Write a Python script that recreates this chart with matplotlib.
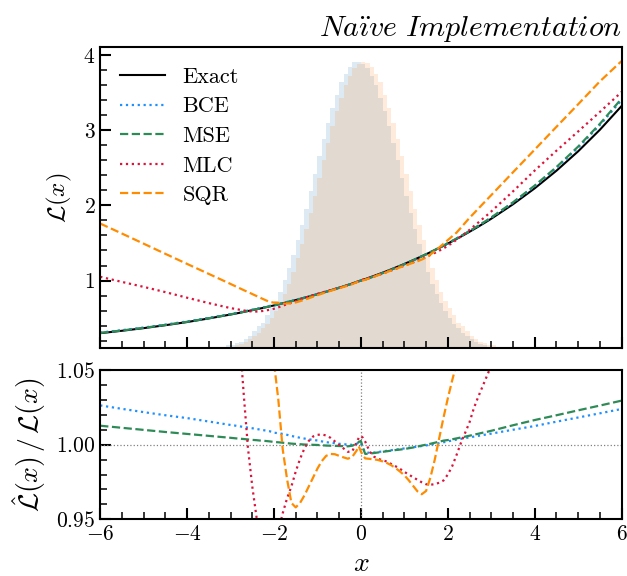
import numpy as np
import matplotlib
matplotlib.use("Agg")
import matplotlib.pyplot as plt
from matplotlib.ticker import MultipleLocator

plt.rcParams['font.family'] = 'serif'
plt.rcParams['font.serif'] = ['cmr10']
plt.rcParams['mathtext.fontset'] = 'cm'
plt.rcParams['axes.formatter.use_mathtext'] = True
plt.rcParams['axes.unicode_minus'] = True

# sample positions along x
x_grid = [-6.0, -5.5, -5.0, -4.5, -4.0, -3.5,
          -3.0, -2.9, -2.8, -2.7, -2.6, -2.5, -2.4, -2.3, -2.2, -2.1,
          -2.0, -1.9, -1.8, -1.7, -1.6, -1.5, -1.4, -1.3, -1.2, -1.1,
          -1.0, -0.9, -0.8, -0.7, -0.6, -0.5, -0.4, -0.3, -0.2, -0.1,
          -0.05, 0.0, 0.05,
          0.1, 0.2, 0.3, 0.4, 0.5, 0.6, 0.7, 0.8, 0.9, 1.0,
          1.1, 1.2, 1.3, 1.4, 1.5, 1.6, 1.7, 1.8, 1.9, 2.0,
          2.1, 2.2, 2.3, 2.4, 2.5, 2.6, 2.7, 2.8, 2.9, 3.0,
          3.5, 4.0, 4.5, 5.0, 5.5, 6.0]

# exact likelihood ratio
L_exact = [0.301, 0.333, 0.368, 0.407, 0.449, 0.497,
           0.549, 0.560, 0.571, 0.583, 0.595, 0.607, 0.619, 0.631, 0.644, 0.657,
           0.670, 0.684, 0.698, 0.712, 0.726, 0.741, 0.756, 0.771, 0.787, 0.803,
           0.819, 0.835, 0.852, 0.869, 0.887, 0.905, 0.923, 0.942, 0.961, 0.980,
           0.990, 1.000, 1.010,
           1.020, 1.041, 1.062, 1.083, 1.105, 1.127, 1.150, 1.174, 1.197, 1.221,
           1.246, 1.271, 1.297, 1.323, 1.350, 1.377, 1.405, 1.433, 1.462, 1.492,
           1.522, 1.553, 1.584, 1.616, 1.649, 1.682, 1.716, 1.751, 1.786, 1.822,
           2.014, 2.226, 2.460, 2.718, 3.004, 3.320]

# ratio of each estimate to the exact curve
r_bce = [1.0263, 1.0240, 1.0218, 1.0197, 1.0178, 1.0155,
         1.0132, 1.0128, 1.0123, 1.0119, 1.0114, 1.0110, 1.0105, 1.0100, 1.0095, 1.0090,
         1.0080, 1.0077, 1.0072, 1.0066, 1.0058, 1.0053, 1.0046, 1.0041, 1.0036, 1.0032,
         1.0028, 1.0022, 1.0017, 1.0013, 1.0010, 1.0006, 1.0003, 1.0001, 0.9999, 1.0005,
         1.0015, 1.0010, 0.9975,
         0.9950, 0.9945, 0.9947, 0.9951, 0.9955, 0.9959, 0.9963, 0.9967, 0.9971, 0.9975,
         0.9979, 0.9983, 0.9987, 0.9991, 0.9995, 1.0000, 1.0005, 1.0010, 1.0016, 1.0022,
         1.0028, 1.0034, 1.0039, 1.0044, 1.0049, 1.0054, 1.0059, 1.0064, 1.0069, 1.0074,
         1.0100, 1.0125, 1.0154, 1.0182, 1.0210, 1.0239]

r_mse = [1.0127, 1.0113, 1.0099, 1.0085, 1.0072, 1.0059,
         1.0046, 1.0043, 1.0040, 1.0038, 1.0035, 1.0032, 1.0030, 1.0027, 1.0025, 1.0022,
         1.0018, 1.0016, 1.0013, 1.0010, 1.0007, 1.0005, 1.0003, 1.0001, 1.0000, 0.9999,
         0.9998, 0.9996, 0.9994, 0.9993, 0.9992, 0.9991, 0.9990, 0.9989, 0.9993, 1.0005,
         1.0018, 1.0025, 0.9975,
         0.9938, 0.9940, 0.9944, 0.9948, 0.9952, 0.9956, 0.9960, 0.9964, 0.9967, 0.9971,
         0.9976, 0.9981, 0.9987, 0.9994, 1.0000, 1.0006, 1.0013, 1.0020, 1.0027, 1.0031,
         1.0036, 1.0042, 1.0048, 1.0054, 1.0060, 1.0067, 1.0073, 1.0080, 1.0086, 1.0093,
         1.0130, 1.0165, 1.0197, 1.0230, 1.0262, 1.0295]

r_mlc = [3.490, 2.950, 2.490, 2.080, 1.720, 1.410,
         1.155, 1.115, 1.075, 1.035, 0.998, 0.972, 0.951, 0.940, 0.934, 0.932,
         0.934, 0.942, 0.954, 0.964, 0.972, 0.982, 0.9905, 0.9975, 1.0025, 1.0055,
         1.0066, 1.0068, 1.0062, 1.0046, 1.0022, 0.9998, 0.9975, 0.9952, 0.9955, 1.0015,
         1.0045, 1.0058, 1.0045,
         1.0020, 0.9955, 0.9920, 0.9905, 0.9895, 0.9887, 0.9870, 0.9855, 0.9838, 0.9818,
         0.9800, 0.9782, 0.9765, 0.9748, 0.9735, 0.9732, 0.9735, 0.9745, 0.9760, 0.9800,
         0.9855, 0.9930, 1.0010, 1.0080, 1.0150, 1.0245, 1.0320, 1.0390, 1.0460, 1.0530,
         1.085, 1.106, 1.108, 1.097, 1.079, 1.056]

r_sqr = [5.840, 4.880, 4.050, 3.330, 2.720, 2.190,
         1.740, 1.657, 1.578, 1.499, 1.425, 1.353, 1.283, 1.216, 1.151, 1.090,
         1.055, 1.030, 0.997, 0.977, 0.961, 0.958, 0.961, 0.966, 0.972, 0.978,
         0.984, 0.989, 0.9925, 0.9938, 0.9936, 0.9925, 0.9915, 0.9906, 0.9918, 0.9960,
         0.9990, 0.9955, 0.9925,
         0.9908, 0.9905, 0.9902, 0.9897, 0.9888, 0.9877, 0.9862, 0.9843, 0.9820, 0.9795,
         0.9762, 0.9725, 0.9688, 0.9668, 0.9690, 0.9780, 0.9900, 1.0040, 1.0180, 1.0310,
         1.0430, 1.0540, 1.0740, 1.0940, 1.1120, 1.1260, 1.1390, 1.1510, 1.1620, 1.1720,
         1.211, 1.231, 1.237, 1.230, 1.214, 1.180]

# background histograms (bin width 0.1, from -3.5 to 3.5)
hist_edges = np.round(np.linspace(-3.5, 3.5, 71), 2)
h_blue = [0.06, 0.08, 0.11, 0.12, 0.14, 0.15, 0.17, 0.19, 0.23, 0.27,
          0.33, 0.39, 0.44, 0.54, 0.63, 0.73, 0.85, 1.01, 1.17, 1.34,
          1.54, 1.74, 1.95, 2.19, 2.41, 2.65, 2.88, 3.09, 3.29, 3.46,
          3.64, 3.75, 3.84, 3.90, 3.91, 3.88, 3.82, 3.72, 3.60, 3.43,
          3.25, 3.05, 2.83, 2.60, 2.36, 2.13, 1.90, 1.69, 1.49, 1.30,
          1.12, 0.96, 0.82, 0.70, 0.60, 0.50, 0.42, 0.37, 0.31, 0.26,
          0.22, 0.19, 0.16, 0.14, 0.12, 0.11, 0.09, 0.07, 0.05, 0.04]
h_orange = [0.04, 0.05, 0.07, 0.09, 0.11, 0.12, 0.14, 0.16, 0.19, 0.22,
            0.26, 0.31, 0.37, 0.42, 0.50, 0.60, 0.70, 0.82, 0.96, 1.12,
            1.30, 1.49, 1.69, 1.90, 2.13, 2.36, 2.60, 2.83, 3.05, 3.25,
            3.43, 3.60, 3.72, 3.82, 3.88, 3.91, 3.89, 3.84, 3.75, 3.64,
            3.47, 3.29, 3.09, 2.88, 2.65, 2.41, 2.19, 1.95, 1.74, 1.54,
            1.34, 1.17, 1.01, 0.85, 0.73, 0.63, 0.54, 0.44, 0.39, 0.33,
            0.27, 0.23, 0.19, 0.17, 0.15, 0.14, 0.12, 0.11, 0.08, 0.06]

models = [('BCE', r_bce, '#1e90ff', ':'),
          ('MSE', r_mse, '#2e8b57', '--'),
          ('MLC', r_mlc, '#dc143c', ':'),
          ('SQR', r_sqr, '#ff8c00', '--')]

x = np.array(x_grid)
Lx = np.array(L_exact)

fig = plt.figure(figsize=(6.27, 5.76), dpi=100)
ax1 = fig.add_axes([0.1598, 0.3953, 0.8316, 0.5226])
ax2 = fig.add_axes([0.1598, 0.0984, 0.8316, 0.2592], sharex=ax1)

ax1.hist(hist_edges[:-1], bins=hist_edges, weights=h_blue, color='tab:blue', alpha=0.15)
ax1.hist(hist_edges[:-1], bins=hist_edges, weights=h_orange, color='tab:orange', alpha=0.15)

ax1.plot(x, Lx, color='black', lw=1.5, label='Exact')
for name, r, c, ls in models:
    ax1.plot(x, Lx * np.array(r), color=c, ls=ls, lw=1.6, label=name)

ax2.axhline(1.0, color='gray', ls=':', lw=0.9)
ax2.axvline(0.0, color='gray', ls=':', lw=0.9)
for name, r, c, ls in models:
    ax2.plot(x, r, color=c, ls=ls, lw=1.6)

ax1.set_xlim(-6, 6)
ax1.set_ylim(0.1, 4.1)
ax2.set_ylim(0.95, 1.05)

ax1.yaxis.set_major_locator(MultipleLocator(1))
ax1.yaxis.set_minor_locator(MultipleLocator(0.2))
ax2.yaxis.set_major_locator(MultipleLocator(0.05))
ax2.yaxis.set_minor_locator(MultipleLocator(0.01))
ax2.xaxis.set_major_locator(MultipleLocator(2))
ax2.xaxis.set_minor_locator(MultipleLocator(0.5))

for ax in (ax1, ax2):
    for s in ax.spines.values():
        s.set_linewidth(1.5)
    ax.tick_params(which='major', direction='in', length=8, width=1.5, labelsize=15.5)
    ax.tick_params(which='minor', direction='in', length=5, width=1.1)
ax1.tick_params(axis='x', labelbottom=False)

ax1.set_ylabel(r'$\mathcal{L}(x)$', fontsize=18)
ax1.yaxis.set_label_coords(-0.05, 0.5)
ax2.set_ylabel(r'$\hat{\mathcal{L}}(x)\,/\,\mathcal{L}(x)$', fontsize=20)
ax2.yaxis.set_label_coords(-0.1, 0.5)
ax2.set_xlabel(r'$x$', fontsize=20)
ax2.xaxis.set_label_coords(0.5, -0.21)

ax1.legend(loc='upper left', frameon=False, fontsize=16, handlelength=2.0,
           labelspacing=0.45, borderaxespad=0.5)
ax1.set_title(r'$\mathit{Na\ddot{\imath}ve\ Implementation}$', loc='right',
              fontsize=21.5, pad=8)

fig.savefig('out.png', dpi=100)
